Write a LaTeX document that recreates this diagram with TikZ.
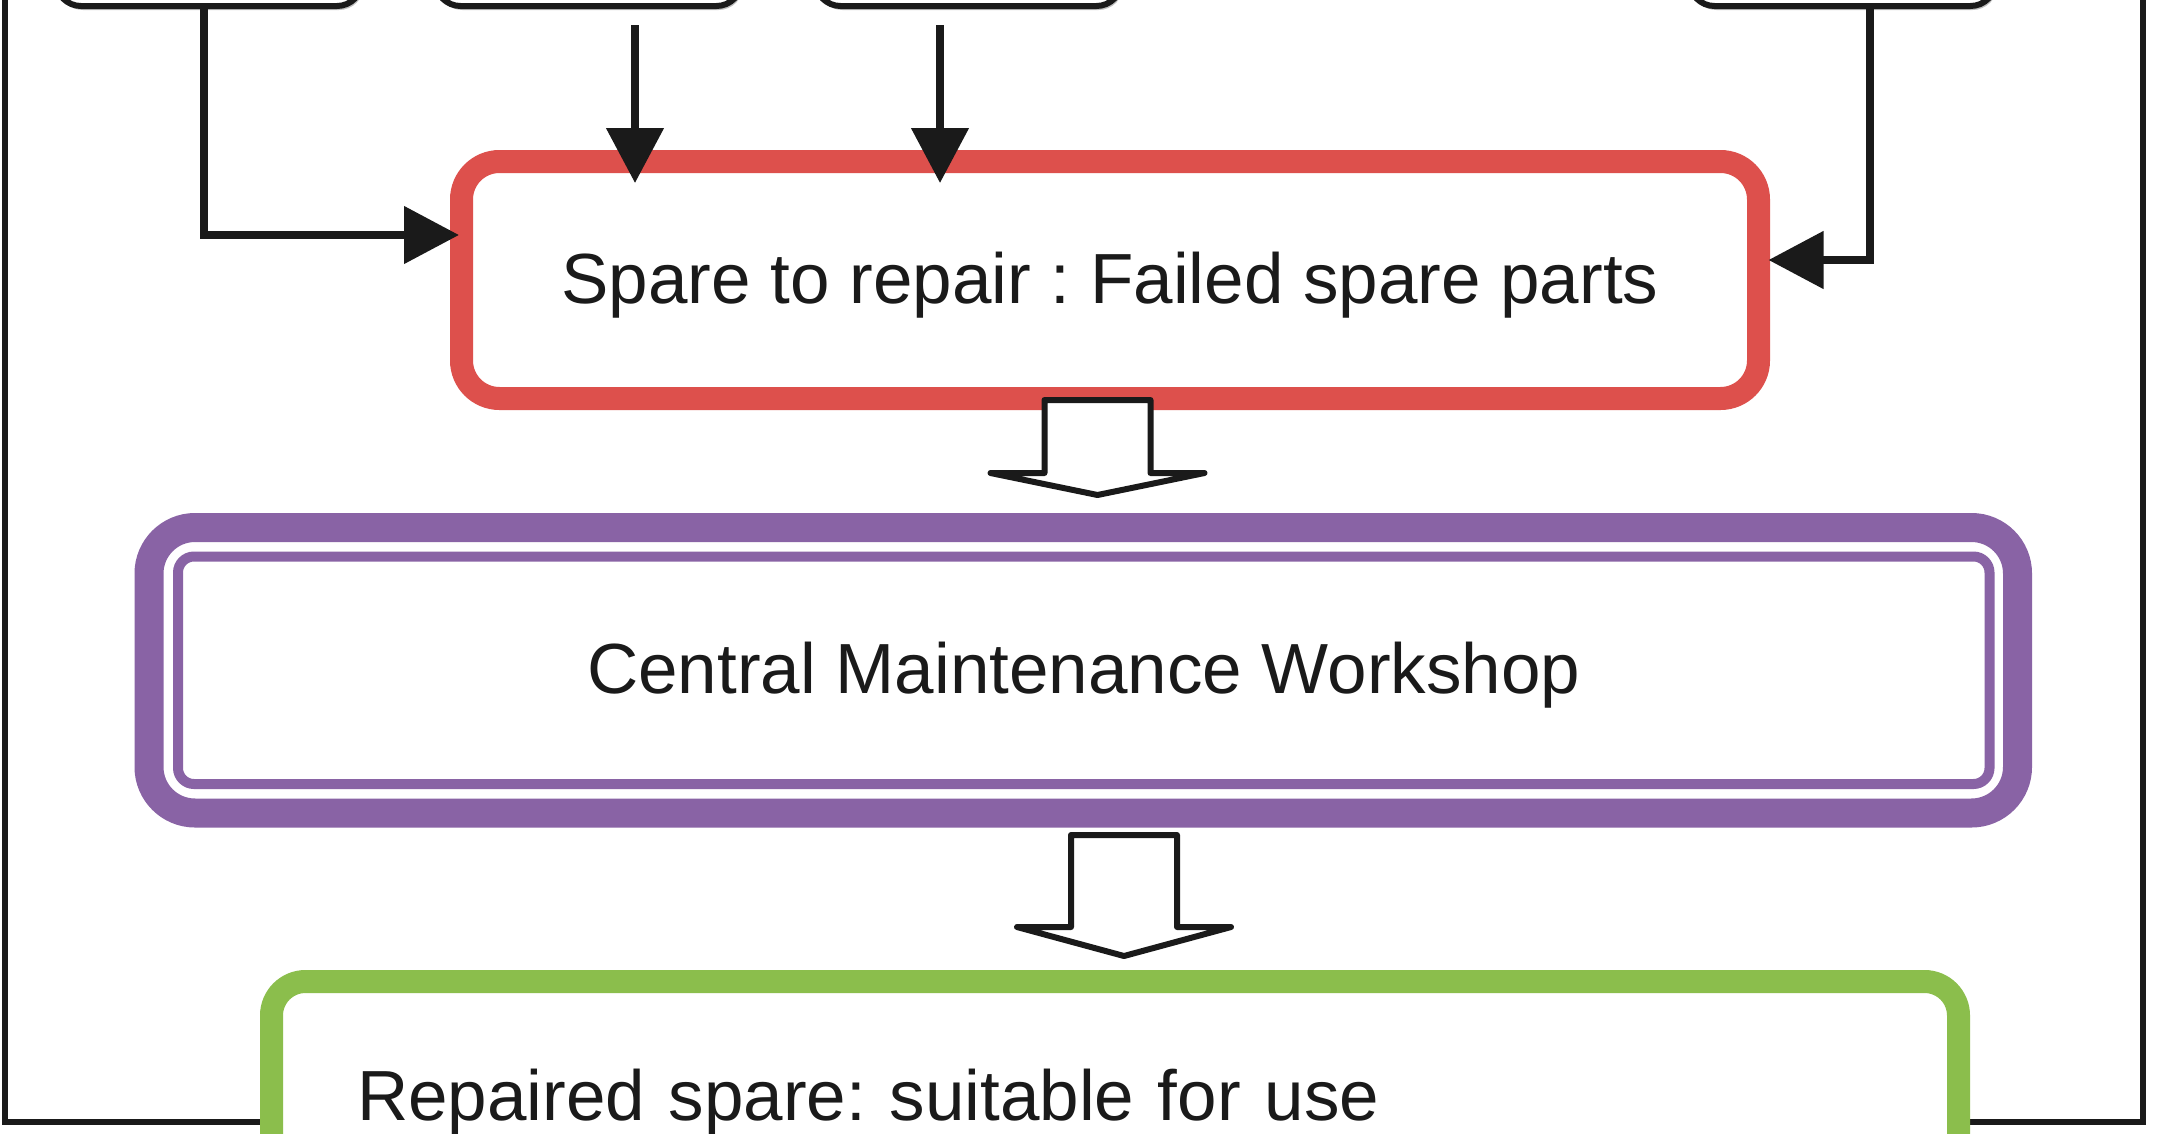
\documentclass[tikz,border=0pt]{standalone}
\usepackage{fontspec}
\newfontfamily\arialf{Liberation Sans}
\usetikzlibrary{arrows.meta,calc,shadows,backgrounds}
\definecolor{cred}{RGB}{221,80,76}
\definecolor{cpurple}{RGB}{137,99,165}
\definecolor{cgreen}{RGB}{139,190,76}
\definecolor{cink}{RGB}{26,26,26}
\frenchspacing
\tikzset{
  pics/blockarrow/.style 2 args={code={
    \draw[blockarr] (-53,0) -- (53,0) -- (53,#1) -- (107,#1) -- (0,{#1+#2}) -- (-107,#1) -- (-53,#1) -- cycle;
  }}
}
\begin{document}
\begin{tikzpicture}[x=1pt,y=-1pt,
  every node/.style={outer sep=0pt},
  txt/.style={font=\arialf\fontsize{71}{85}\selectfont, text=cink, text height=52pt, text depth=6pt},
  topbox/.style={draw=cink, line width=6pt, rounded corners=25pt, minimum width=306pt, minimum height=220pt, fill=white,
    drop shadow={shadow xshift=2pt, shadow yshift=-4pt, opacity=0.25, fill=black}},
  redbox/.style={txt, draw=cred, line width=23pt, rounded corners=38pt, minimum width=1297pt, minimum height=237pt, fill=white, inner sep=0pt},
  cmwbox/.style={txt, draw=cpurple, line width=10pt, rounded corners=16pt, minimum width=1811.5pt, minimum height=227.5pt, inner sep=0pt},
  greenbox/.style={txt, draw=cgreen, line width=23pt, rounded corners=34pt, minimum width=1687pt, minimum height=231pt, fill=white,
    align=left, text width=1516pt, inner xsep=85.5pt, inner ysep=0pt},
  conn/.style={draw=cink, line width=8pt, -{Triangle[length=55pt,width=56pt]}},
  frameline/.style={draw=cink, line width=6pt},
  blockarr/.style={draw=cink, fill=white, line width=6pt, line join=round},
]
\useasboundingbox (0,0) rectangle (2163,1133);
\clip (0,0) rectangle (2163,1133);

% top boxes (cut off by the picture edge)
\node[topbox] (b1) at (209,-104) {};
\node[topbox] (b2) at (588.5,-104) {};
\node[topbox] (b3) at (968.5,-104) {};
\node[topbox] (b4) at (1842.5,-104) {};

% red box
\node[redbox] (red) at (1110,280) {Spare to repair : Failed spare parts};

% purple double-framed box
\node[cmwbox] (cmw) at (1083.75,670.25) {Central Maintenance Workshop};
\draw[cpurple, line width=29pt, rounded corners=46pt]
  ([xshift=-29pt,yshift=29pt]cmw.north west) rectangle ([xshift=28pt,yshift=-29pt]cmw.south east);

% green box
\node[greenbox, anchor=north west] (green) at (271.5,981.5) {Repaired spare: suitable for use};

% white page and outer feedback frame, behind everything
\begin{scope}[on background layer]
  \fill[white] (0,0) rectangle (2163,1133);
  \draw[frameline] (green.west |- 0,1122) -- (4.5,1122) -- (4.5,-60);
  \draw[frameline] (green.east |- 0,1122) -- (2142.5,1122) -- (2142.5,-60);
\end{scope}

% connectors from the top boxes
\draw[conn] ([xshift=-5pt]b1.south) |- ($(red.west)+(-2.5,-45)$);
\draw[conn] ($(b2.south)+(46.5,19)$) -- ($(red.north -| b2.south)+(46.5,21.5)$);
\draw[conn] ($(b3.south)+(-28.5,19)$) -- ($(red.north -| b3.south)+(-28.5,21.5)$);
\draw[conn] ([xshift=27.5pt]b4.south) |- ($(red.east)+(10,-20)$);

% hollow block arrows
\pic at ($(red.south)+(-12.5,1.5)$) {blockarrow={73}{22}};
\pic at ($(cmw.south)+(40.25,51)$) {blockarrow={92}{29}};
\end{tikzpicture}
\end{document}
